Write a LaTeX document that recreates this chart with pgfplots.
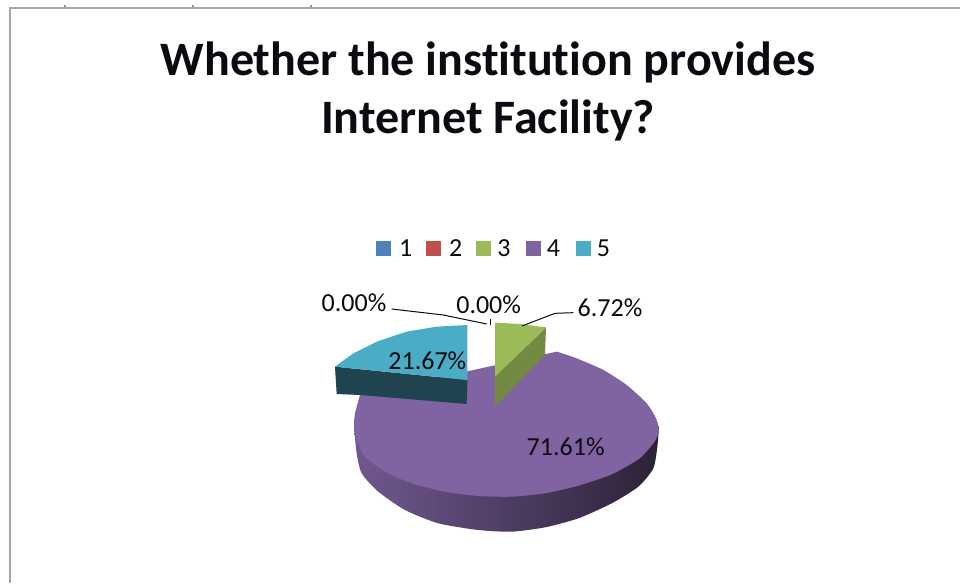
\documentclass[border=0pt]{standalone}
\usepackage{pgfplots}
\pgfplotsset{compat=1.18}
\usepackage{fontspec}
\setmainfont[Ligatures=NoCommon]{Carlito}
\definecolor{c1}{HTML}{4F81BD}
\definecolor{c2}{HTML}{C0504D}
\definecolor{c3}{HTML}{9BBB59}
\definecolor{c3d}{HTML}{728A42}
\definecolor{c4}{HTML}{8064A2}
\definecolor{c5}{HTML}{4BACC6}
\definecolor{c5d}{HTML}{1F434F}
\definecolor{frame}{HTML}{A6A6A6}
\definecolor{ink}{HTML}{0A0A10}
\begin{document}
\begin{tikzpicture}
\begin{axis}[
  scale only axis, width=960pt, height=583pt,
  xmin=-930, xmax=1950, ymin=-690, ymax=1059, y dir=reverse,
  axis lines=none, clip=true,
]
% page background, fixes the picture's extent
\addplot[draw=none, fill=white] coordinates {(-930,-690) (1950,-690) (1950,1059) (-930,1059)} --cycle;
% frame
\addplot[frame, line width=2pt] coordinates {(-900,1059) (-900,-666) (1950,-666)};
\addplot[only marks, mark=square*, mark size=0.6pt, color=frame!85!blue] coordinates {(-735,-672) (-351,-672) (3,-672)};
% purple side (its upper part lies under the top face)
\addplot[draw=none, smooth, tension=0.4, left color=c4!88!black, middle color=c4!58!black, right color=c4!34!black] coordinates {
 (1047,590) (1042,650) (1030,715) (985,770) (905,820) (805,865) (705,892) (605,905) (505,900) (385,880) (285,840) (205,785) (155,730) (140,670) (132,590)} --cycle;
% purple top
\addplot[draw=none, fill=c4, smooth, tension=0.4] coordinates {
 (740,365) (800,385) (880,420) (950,465) (1010,520) (1038,565) (1047,600) (1038,628) (1018,655) (985,688) (905,733) (805,767) (705,790) (605,800) (505,798) (405,785) (305,760) (225,725) (165,680) (140,630) (132,590) (135,550) (150,495)} --cycle;
\addplot[draw=none, fill=c4] coordinates {(150,495) (470,525) (590,537) (740,365) (880,420) (1010,520) (1030,628) (805,765) (405,785) (165,680)} --cycle;
% teal side and top
\addplot[draw=none, fill=c5d] coordinates {(75,410) (472,450) (470,522) (150,495) (80,492)} --cycle;
\addplot[draw=none, fill=c5] coordinates {(75,410) (130,370) (200,335) (290,305) (380,290) (472,285) (472,450)} --cycle;
% green side and top
\addplot[draw=none, fill=c3d] coordinates {(555,440) (708,292) (705,375) (555,530)} --cycle;
\addplot[draw=none, fill=c3] coordinates {(555,278) (630,282) (708,292) (555,440)} --cycle;
% leader lines
\addplot[ink, line width=1pt] coordinates {(245,237) (400,255) (530,282)};
\addplot[ink, line width=1pt] coordinates {(541,268) (541,284)};
\addplot[ink, line width=1pt] coordinates {(790,248) (735,250) (636,288)};
% legend
\addplot[only marks, mark=square*, mark size=7pt, color=c1] coordinates {(221,55)};
\addplot[only marks, mark=square*, mark size=7pt, color=c2] coordinates {(371,55)};
\addplot[only marks, mark=square*, mark size=7pt, color=c3] coordinates {(521,55)};
\addplot[only marks, mark=square*, mark size=7pt, color=c4] coordinates {(671,55)};
\addplot[only marks, mark=square*, mark size=7pt, color=c5] coordinates {(821,55)};
% text
\def\lf{\fontsize{26}{30}\selectfont}
\node[font=\lf,text=ink] at (axis cs:287,55) {1};
\node[font=\lf,text=ink] at (axis cs:437,55) {2};
\node[font=\lf,text=ink] at (axis cs:582,55) {3};
\node[font=\lf,text=ink] at (axis cs:730,55) {4};
\node[font=\lf,text=ink] at (axis cs:880,55) {5};
\node[font=\lf,text=ink] at (axis cs:132,218) {0.00\%};
\node[font=\lf,text=ink] at (axis cs:536,225) {0.00\%};
\node[font=\lf,text=ink] at (axis cs:900,232) {6.72\%};
\node[font=\lf,text=ink] at (axis cs:352,393) {21.67\%};
\node[font=\lf,text=ink] at (axis cs:767,650) {71.61\%};
\node[font=\bfseries\fontsize{48}{52}\selectfont,text=ink] at (axis cs:534,-504) {Whether the institution provides};
\node[font=\bfseries\fontsize{48}{52}\selectfont,text=ink] at (axis cs:534,-330) {Internet Facility?};
\end{axis}
\end{tikzpicture}
\end{document}
